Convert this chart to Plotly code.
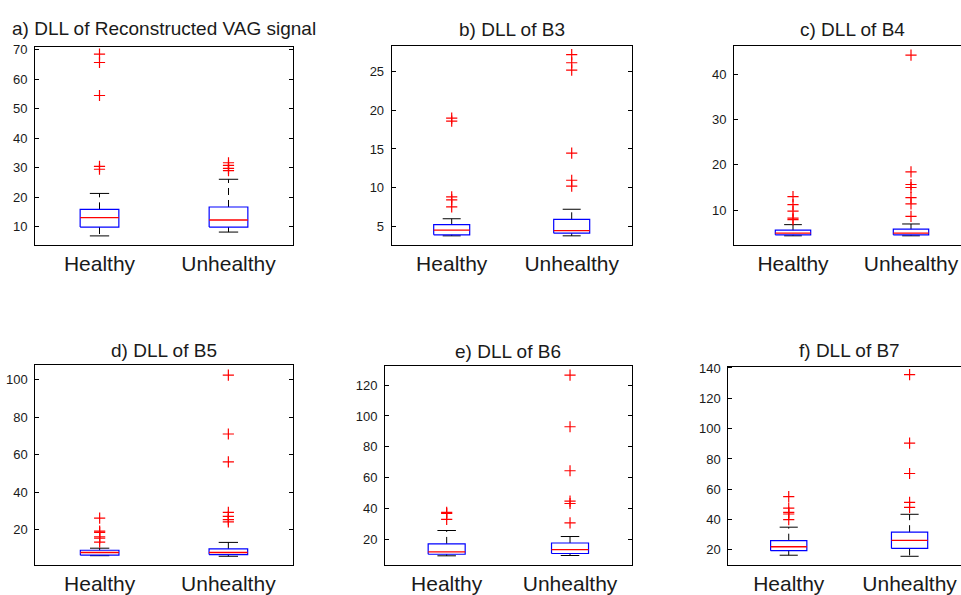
import plotly.graph_objects as go

# ---------------- data ----------------
groups = ["Healthy", "Unhealthy"]
titles = ["a) DLL of Reconstructed VAG signal", "b) DLL of B3", "c) DLL of B4",
          "d) DLL of B5", "e) DLL of B6", "f) DLL of B7"]

# stats: [lower whisker, Q1, median, Q3, upper whisker]
a_healthy = [6.9, 9.9, 13.1, 15.9, 21.3]
a_unhealthy = [8.2, 9.9, 12.3, 16.7, 26.1]
a_healthy_out = [29.5, 30.5, 54.5, 65.7, 68.5]
a_unhealthy_out = [29.0, 29.8, 30.8, 31.7]

b_healthy = [3.76, 3.89, 4.49, 5.2, 5.97]
b_unhealthy = [3.76, 4.1, 4.44, 5.9, 7.2]
b_healthy_out = [7.5, 8.4, 8.8, 18.6, 19.0]
b_unhealthy_out = [10.2, 10.95, 14.45, 25.2, 26.15, 27.2]

c_healthy = [4.34, 4.55, 4.92, 5.58, 6.8]
c_unhealthy = [4.34, 4.55, 4.92, 5.8, 6.95]
c_healthy_out = [7.9, 8.26, 9.8, 11.2, 13.0]
c_unhealthy_out = [8.63, 11.37, 12.77, 15.0, 15.66, 18.43, 44.2]

d_healthy = [6.2, 6.5, 7.9, 9.1, 10.2]
d_unhealthy = [5.9, 6.8, 7.9, 9.8, 13.3]
d_healthy_out = [13.4, 15.6, 16.3, 18.6, 19.3, 26.2]
d_unhealthy_out = [24.2, 25.4, 27.2, 29.3, 56.2, 71.1, 102.5]

e_healthy = [9.4, 10.4, 11.9, 17.1, 25.8]
e_unhealthy = [9.6, 10.9, 13.4, 17.7, 21.9]
e_healthy_out = [33.0, 36.8, 37.6]
e_unhealthy_out = [30.7, 43.3, 44.8, 64.5, 93.0, 126.4]

f_healthy = [16.5, 19.5, 22.1, 26.1, 35.0]
f_unhealthy = [15.8, 21.0, 26.3, 31.7, 43.5]
f_healthy_out = [40.0, 43.7, 44.8, 47.6, 55.2]
f_unhealthy_out = [48.0, 51.3, 70.4, 90.4, 135.6]

y_ticks_a = [10, 20, 30, 40, 50, 60, 70]
y_ticks_b = [5, 10, 15, 20, 25]
y_ticks_c = [10, 20, 30, 40]
y_ticks_d = [20, 40, 60, 80, 100]
y_ticks_e = [20, 40, 60, 80, 100, 120]
y_ticks_f = [20, 40, 60, 80, 100, 120, 140]

panel_stats = [(a_healthy, a_unhealthy, a_healthy_out, a_unhealthy_out),
               (b_healthy, b_unhealthy, b_healthy_out, b_unhealthy_out),
               (c_healthy, c_unhealthy, c_healthy_out, c_unhealthy_out),
               (d_healthy, d_unhealthy, d_healthy_out, d_unhealthy_out),
               (e_healthy, e_unhealthy, e_healthy_out, e_unhealthy_out),
               (f_healthy, f_unhealthy, f_healthy_out, f_unhealthy_out)]
panel_ticks = [y_ticks_a, y_ticks_b, y_ticks_c, y_ticks_d, y_ticks_e, y_ticks_f]

# ---------------- layout constants (pixels) ----------------
W, H = 961, 595
# axes boxes: left, right, top, bottom (pixels); right may run beyond the page
boxes_px = [(35, 293, 42, 242), (391.7, 631.7, 40.7, 242.3), (734, 970, 40.7, 242.3),
            (35.3, 292.7, 364.3, 566.7), (385, 631.7, 365, 566.7), (728.3, 970, 365.7, 566.7)]
y_ranges = [(3.9, 70.8), (2.57, 28.3), (2.3, 46.2), (1.2, 107.7), (3.4, 132.3), (10, 140.8)]
title_y_px = [23, 24, 24, 349, 350, 349]
HALF_BOX = 0.15
HALF_CAP = 0.075
FONT = "Liberation Sans, Arial, Helvetica, sans-serif"
TXT = "#1a1a1a"

fig = go.Figure()
layout = dict(width=W, height=H, margin=dict(l=0, r=0, t=0, b=0),
              paper_bgcolor="white", plot_bgcolor="white", showlegend=False,
              font=dict(family=FONT, color=TXT))
annotations = []

for i, (stats, ticks) in enumerate(zip(panel_stats, panel_ticks)):
    n = i + 1
    xa = "x" if n == 1 else f"x{n}"
    ya = "y" if n == 1 else f"y{n}"
    l, r, t, b = boxes_px[i]
    px_per_unit = (r - l) / 2.0
    right_vis = min(r, W)
    x_range = [0.5, 0.5 + (right_vis - l) / px_per_unit]
    cut = r > W
    hs, us, ho, uo = stats
    for pos, st, outs in ((1, hs, ho), (2, us, uo)):
        lo, q1, med, q3, hi = st
        # whiskers (dashed)
        fig.add_trace(go.Scatter(x=[pos, pos, None, pos, pos], y=[q3, hi, None, q1, lo],
                                 mode="lines", line=dict(color="black", width=1, dash="7px,5px"),
                                 xaxis=xa, yaxis=ya, hoverinfo="skip"))
        # caps
        fig.add_trace(go.Scatter(x=[pos - HALF_CAP, pos + HALF_CAP, None, pos - HALF_CAP, pos + HALF_CAP],
                                 y=[hi, hi, None, lo, lo], mode="lines",
                                 line=dict(color="black", width=1), xaxis=xa, yaxis=ya, hoverinfo="skip"))
        # box
        fig.add_trace(go.Scatter(x=[pos - HALF_BOX, pos + HALF_BOX, pos + HALF_BOX, pos - HALF_BOX, pos - HALF_BOX],
                                 y=[q1, q1, q3, q3, q1], mode="lines",
                                 line=dict(color="#0000ff", width=1.2), xaxis=xa, yaxis=ya, hoverinfo="skip"))
        # median
        fig.add_trace(go.Scatter(x=[pos - HALF_BOX, pos + HALF_BOX], y=[med, med], mode="lines",
                                 line=dict(color="#ff0000", width=1.3), xaxis=xa, yaxis=ya, hoverinfo="skip"))
        # outliers
        fig.add_trace(go.Scatter(x=[pos] * len(outs), y=outs, mode="markers",
                                 marker=dict(symbol="cross-thin", size=8, color="#ff0000",
                                             line=dict(color="#ff0000", width=1.2)),
                                 xaxis=xa, yaxis=ya, hoverinfo="skip"))

    key_x = "xaxis" if n == 1 else f"xaxis{n}"
    key_y = "yaxis" if n == 1 else f"yaxis{n}"
    layout[key_x] = dict(domain=[l / W, right_vis / W], range=x_range, anchor=ya,
                         tickmode="array", tickvals=[1, 2], ticktext=groups,
                         ticks="", showgrid=False, zeroline=False, showline=True,
                         linecolor="black", linewidth=1, mirror=True,
                         tickfont=dict(size=21, family=FONT, color=TXT), ticklabelstandoff=0,
                         fixedrange=True)
    layout[key_y] = dict(domain=[1 - b / H, 1 - t / H], range=list(y_ranges[i]), anchor=xa,
                         tickmode="array", tickvals=ticks, ticks="inside", ticklen=4,
                         tickcolor="black", showgrid=False, zeroline=False, showline=True,
                         linecolor="black", linewidth=1,
                         mirror=(False if cut else "ticks"),
                         tickfont=dict(size=13, family=FONT, color=TXT), ticklabelstandoff=4,
                         fixedrange=True)
    annotations.append(dict(text=titles[i], xref=xa, x=1.5, yref="paper", y=1 - title_y_px[i] / H,
                            xanchor="center", yanchor="middle", showarrow=False,
                            font=dict(size=19, family=FONT, color=TXT)))

layout["annotations"] = annotations
fig.update_layout(**layout)
fig.write_html("out.html")
